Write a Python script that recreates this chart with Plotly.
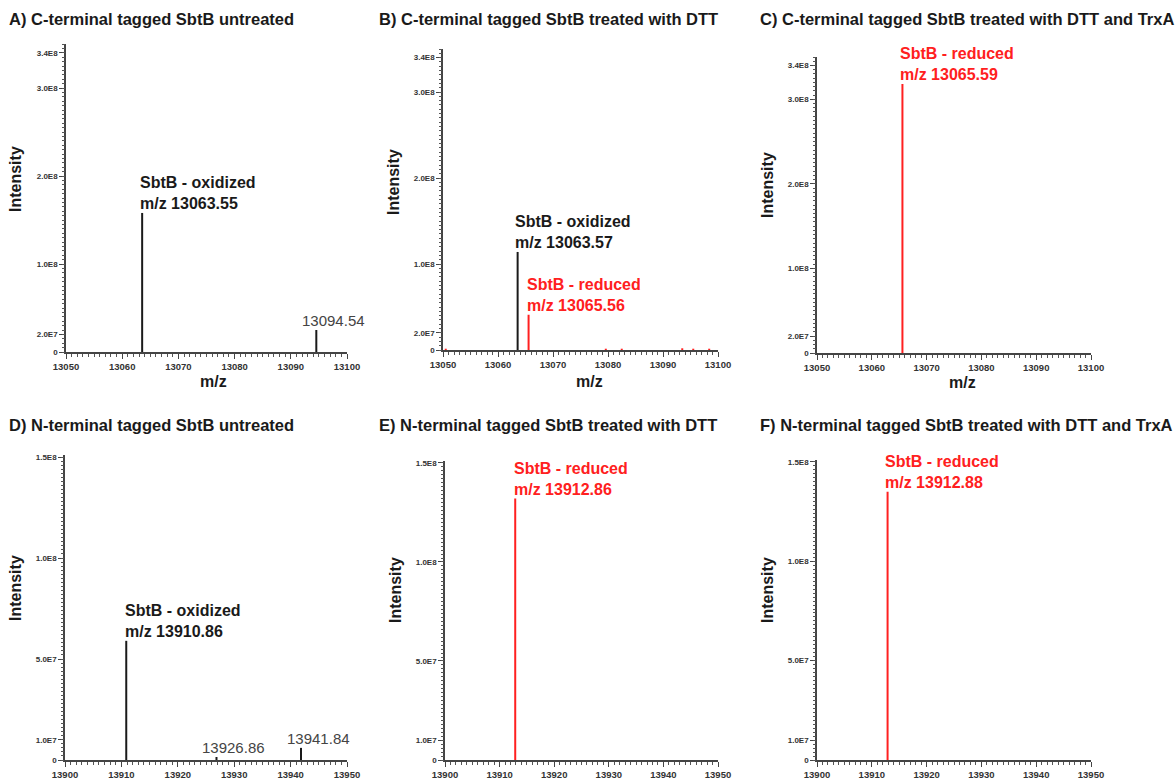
import plotly.graph_objects as go

W, H = 1176, 781

# ---------------- data ----------------
panel_titles = [
    "A) C-terminal tagged SbtB untreated",
    "B) C-terminal tagged SbtB treated with DTT",
    "C) C-terminal tagged SbtB treated with DTT and TrxA",
    "D) N-terminal tagged SbtB untreated",
    "E) N-terminal tagged SbtB treated with DTT",
    "F) N-terminal tagged SbtB treated with DTT and TrxA",
]

# black (oxidized / other) peaks per panel
black_mz = [
    [13063.55, 13094.54],
    [13063.57],
    [],
    [13910.86, 13926.86, 13941.84],
    [],
    [],
]
black_int = [
    [1.58e8, 2.5e7],
    [1.14e8],
    [],
    [5.9e7, 1.5e6, 6.0e6],
    [],
    [],
]
# red (reduced) peaks per panel
red_mz = [
    [],
    [13065.56, 13050.5, 13079.6, 13082.5, 13093.5, 13095.5, 13098.4],
    [13065.59],
    [],
    [13912.86],
    [13912.88],
]
red_int = [
    [],
    [4.1e7, 1.5e6, 1.5e6, 1.5e6, 2.0e6, 1.5e6, 1.5e6],
    [3.18e8],
    [],
    [1.32e8],
    [1.35e8],
]

top_yticks = [0, 2.0e7, 1.0e8, 2.0e8, 3.0e8, 3.4e8]
top_yticklabels = ["0", "2.0E7", "1.0E8", "2.0E8", "3.0E8", "3.4E8"]
bot_yticks = [0, 1.0e7, 5.0e7, 1.0e8, 1.5e8]
bot_yticklabels = ["0", "1.0E7", "5.0E7", "1.0E8", "1.5E8"]
top_xrange = [13050, 13100]
bot_xrange = [13900, 13950]

# labelled peaks: (panel, mz, intensity, text, color, xshift)
big_labels = [
    (0, 13063.55, 1.58e8, "SbtB - oxidized<br>m/z 13063.55", "#1a1a1a", -3),
    (1, 13063.57, 1.14e8, "SbtB - oxidized<br>m/z 13063.57", "#1a1a1a", -4),
    (1, 13065.56, 4.1e7, "SbtB - reduced<br>m/z 13065.56", "#ff2020", -3),
    (2, 13065.59, 3.18e8, "SbtB - reduced<br>m/z 13065.59", "#ff2020", -3),
    (3, 13910.86, 5.9e7, "SbtB - oxidized<br>m/z 13910.86", "#1a1a1a", -2),
    (4, 13912.86, 1.32e8, "SbtB - reduced<br>m/z 13912.86", "#ff2020", -2),
    (5, 13912.88, 1.35e8, "SbtB - reduced<br>m/z 13912.88", "#ff2020", -4),
]
small_labels = [
    (0, 13094.54, 2.5e7, "13094.54"),
    (3, 13926.86, 1.5e6, "13926.86"),
    (3, 13941.84, 6.0e6, "13941.84"),
]

# ---------------- layout geometry (pixels) ----------------
# (x_left, x_right, y_top, y_bottom)
boxes = [
    (66, 347, 44, 352),
    (443, 718, 49, 350),
    (817, 1091, 57, 353),
    (65, 347, 455, 760),
    (445, 718, 461, 760),
    (817, 1091, 460, 760),
]
title_pos = [(8, 19), (378, 19), (759, 19), (8, 425), (378, 425), (759, 425)]
ylab_pos = [(15, 179), (393, 182), (767, 185), (15, 588), (395, 590), (767, 590)]
xlab_pos = [(213, 381), (590, 381), (962, 383), (217, 788), (594, 788), (967, 788)]

FONT = "Liberation Sans, Arial, sans-serif"
RED = "#ff2020"
BLACK = "#1a1a1a"

fig = go.Figure()

for i in range(6):
    sfx = "" if i == 0 else str(i + 1)
    xa, ya = "x" + sfx, "y" + sfx
    ya_minor = "y" + str(i + 7)
    top = i < 3
    for mzs, ints, col in ((black_mz[i], black_int[i], BLACK), (red_mz[i], red_int[i], RED)):
        if not mzs:
            continue
        xs, ys = [], []
        for m, v in zip(mzs, ints):
            xs += [m, m, None]
            ys += [0, v, None]
        fig.add_trace(go.Scatter(x=xs, y=ys, mode="lines", xaxis=xa, yaxis=ya,
                                 line=dict(color=col, width=2), showlegend=False,
                                 hoverinfo="skip"))
    # invisible trace so the minor-tick overlay axis is drawn
    xr = top_xrange if top else bot_xrange
    fig.add_trace(go.Scatter(x=[xr[0]], y=[0], mode="markers", xaxis=xa, yaxis=ya_minor,
                             marker=dict(opacity=0), showlegend=False, hoverinfo="skip"))

    x0, x1, yt, yb = boxes[i]
    xdom = [x0 / W, x1 / W]
    ydom = [1 - yb / H, 1 - yt / H]
    yrange = [0, 3.5e8] if top else [0, 1.51e8]
    axis_common = dict(showgrid=False, zeroline=False, showline=True,
                       linecolor="#444", linewidth=1.5, ticks="outside",
                       tickcolor="#444", tickwidth=1, ticklen=5)
    fig.layout["xaxis" + sfx] = dict(
        domain=xdom, anchor=ya, range=xr,
        tickmode="linear", tick0=xr[0], dtick=10, tickformat="d",
        tickfont=dict(family=FONT, size=9.5, color="#333", weight="bold"),
        minor=dict(dtick=1, ticks="outside", ticklen=3, tickcolor="#555", tickwidth=1),
        **axis_common)
    fig.layout["yaxis" + sfx] = dict(
        domain=ydom, anchor=xa, range=yrange,
        tickmode="array",
        tickvals=top_yticks if top else bot_yticks,
        ticktext=top_yticklabels if top else bot_yticklabels,
        tickfont=dict(family=FONT, size=8, color="#333", weight="bold"),
        **axis_common)
    fig.layout["yaxis" + str(i + 7)] = dict(
        overlaying=ya, anchor=xa, side="left", range=yrange,
        showgrid=False, zeroline=False, showline=False, showticklabels=False,
        tickmode="linear", tick0=0, dtick=5e6 if top else 2e6,
        ticks="outside", ticklen=3, tickcolor="#555", tickwidth=1)

annotations = []
for i in range(6):
    tx, ty = title_pos[i]
    annotations.append(dict(text=panel_titles[i], xref="paper", yref="paper",
                            x=tx / W, y=1 - ty / H, xanchor="left", yanchor="middle",
                            showarrow=False, borderpad=0,
                            font=dict(family=FONT, size=16.5, color="#1a1a1a", weight="bold")))
    lx, ly = ylab_pos[i]
    annotations.append(dict(text="Intensity", xref="paper", yref="paper",
                            x=lx / W, y=1 - ly / H, xanchor="center", yanchor="middle",
                            textangle=-90, showarrow=False, borderpad=0,
                            font=dict(family=FONT, size=16, color="#1a1a1a", weight="bold")))
    mx, my = xlab_pos[i]
    annotations.append(dict(text="m/z", xref="paper", yref="paper",
                            x=mx / W, y=1 - my / H, xanchor="center", yanchor="middle",
                            showarrow=False, borderpad=0,
                            font=dict(family=FONT, size=16, color="#1a1a1a", weight="bold")))

for p, m, v, txt, col, xs in big_labels:
    sfx = "" if p == 0 else str(p + 1)
    annotations.append(dict(text=txt, xref="x" + sfx, yref="y" + sfx, x=m, y=v,
                            xanchor="left", yanchor="bottom", align="left",
                            xshift=xs, yshift=0, showarrow=False, borderpad=0,
                            font=dict(family=FONT, size=16, color=col, weight="bold")))
for p, m, v, txt in small_labels:
    sfx = "" if p == 0 else str(p + 1)
    annotations.append(dict(text=txt, xref="x" + sfx, yref="y" + sfx, x=m, y=v,
                            xanchor="left", yanchor="bottom", align="left",
                            xshift=-15, yshift=0, showarrow=False, borderpad=0,
                            font=dict(family=FONT, size=15, color="#444")))

fig.update_layout(width=W, height=H,
                  margin=dict(l=0, r=0, t=0, b=0, pad=0, autoexpand=False),
                  paper_bgcolor="white", plot_bgcolor="white",
                  annotations=annotations, showlegend=False)

fig.write_html("out.html")
